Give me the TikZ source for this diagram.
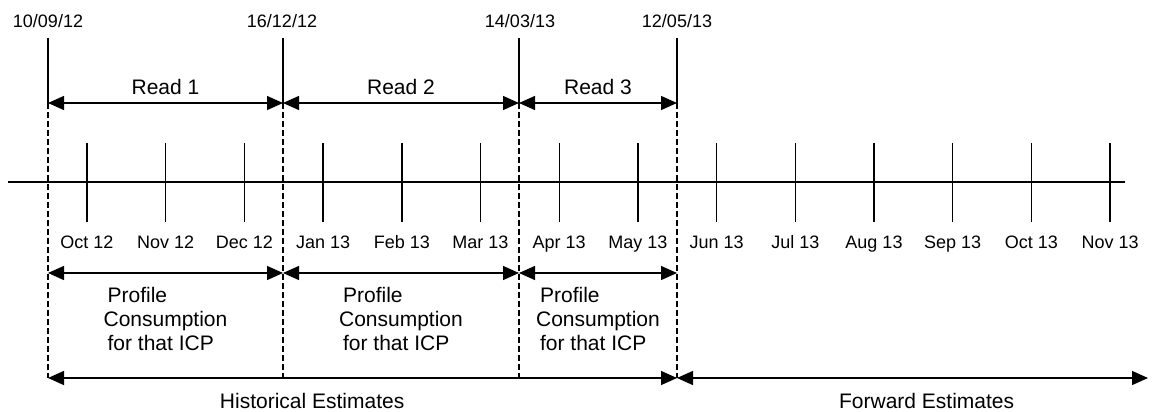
\documentclass[tikz,border=0pt]{standalone}
\usepackage{fontspec}
\setmainfont{Liberation Sans}
\usetikzlibrary{arrows.meta}

\begin{document}
\begin{tikzpicture}[x=1pt, y=-1pt, line width=1.4pt,
  big/.style={font=\fontsize{21}{24}\selectfont},
  small/.style={font=\fontsize{18}{21}\selectfont},
  span/.style={{Triangle[length=16pt,width=14pt]}-{Triangle[length=16pt,width=14pt]}},
  guide/.style={dash pattern=on 6pt off 3pt}]
  \useasboundingbox (0,0) rectangle (1154,412);

  \foreach \x [count=\i] in {48,283,519,677}
  {
    \coordinate (t\i) at (\x,38);
    \coordinate (m\i) at (\x,103);
    \coordinate (p\i) at (\x,273);
    \coordinate (b\i) at (\x,378);
    \draw (t\i) -- (m\i);
    \draw[guide] (m\i) -- (b\i);
  }
  \coordinate (fe) at (1148,378);

  \node[small, anchor=base] (d1) at (48,28) {10/09/12};
  \node[small, anchor=base] (d2) at (282,28) {16/12/12};
  \node[small, anchor=base] (d3) at (520,28) {14/03/13};
  \node[small, anchor=base] (d4) at (677,28) {12/05/13};

  \coordinate (axl) at (8,182);
  \coordinate (axr) at (1125,182);
  \draw (axl) -- (axr);
  \foreach \m [count=\k from 0] in {Oct 12,Nov 12,Dec 12,Jan 13,Feb 13,Mar 13,Apr 13,May 13,Jun 13,Jul 13,Aug 13,Sep 13,Oct 13,Nov 13}
  {
    \coordinate (ka\k) at ({87+78.7*\k},143);
    \coordinate (kb\k) at ({87+78.7*\k},222);
    \draw (ka\k) -- (kb\k);
    \node[small, anchor=base] (mon\k) at ({87+78.7*\k},248) {\m};
  }

  \path[span]
  (m1) edge node[big, above=4.5pt] {Read 1} (m2)
  (m2) edge node[big, above=4.5pt] {Read 2} (m3)
  (m3) edge node[big, above=4.5pt] {Read 3} (m4)
  ;
  \path[span]
  (p1) edge node[big, below=10pt, align=left] {\hspace{4pt}Profile\\Consumption\\\hspace{4pt}for that ICP} (p2)
  (p2) edge node[big, below=10pt, align=left] {\hspace{4pt}Profile\\Consumption\\\hspace{4pt}for that ICP} (p3)
  (p3) edge node[big, below=10pt, align=left] {\hspace{4pt}Profile\\Consumption\\\hspace{4pt}for that ICP} (p4)
  ;
  \path[span]
  (b1) edge node[big, below=11pt, pos=0.42] {Historical Estimates} (b4)
  (b4) edge node[big, below=11pt, pos=0.53] {Forward Estimates} (fe)
  ;
\end{tikzpicture}
\end{document}
